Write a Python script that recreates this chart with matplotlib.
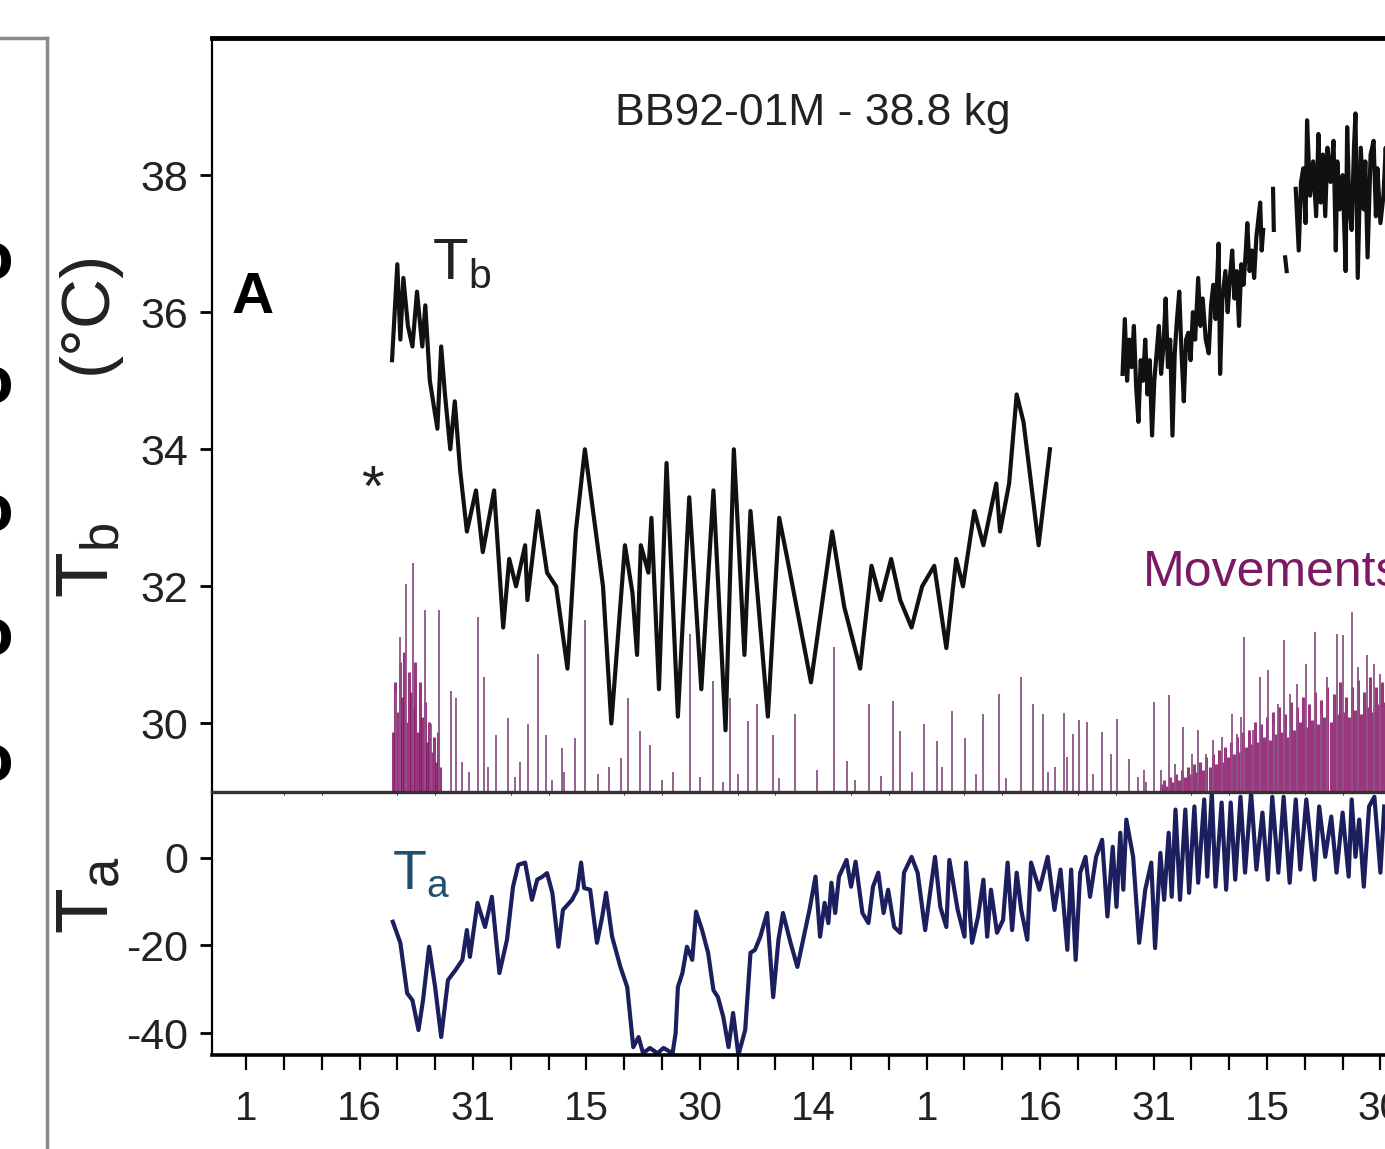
import matplotlib
matplotlib.use('Agg')
import matplotlib.pyplot as plt
import numpy as np
from matplotlib import font_manager
from matplotlib.lines import Line2D

nan = np.nan

# days counted from 1 Dec
tb1_day = [19.3, 20.0, 20.4, 20.8, 21.4, 22.0, 22.6, 23.3, 23.7, 24.3, 25.3, 25.8, 26.3, 27.0, 27.6,
           28.3, 29.2, 30.4, 31.3, 32.8, 34.0, 34.8, 35.7, 36.9, 37.2, 38.6, 39.8, 41.0, 42.5, 43.6,
           44.8, 46.0, 47.2, 48.3, 50.1, 51.1, 51.7, 52.2, 53.2, 53.6, 54.6, 55.6, 57.1, 58.6, 60.2,
           61.8, 63.4, 64.5, 65.9, 66.7, 69.0, 70.5, 71.4, 72.1, 74.7, 77.5, 79.1, 81.2, 82.7, 83.9,
           85.3, 86.5, 88.0, 89.4, 91.0, 92.6, 93.9, 94.8, 96.3, 97.5, 99.2, 99.7, 100.9, 101.9, 102.8,
           103.7, 104.8, 106.3]
tb1_val = [35.3, 36.7, 35.6, 36.5, 35.8, 35.5, 36.3, 35.5, 36.1, 35.0, 34.3, 35.5, 34.8, 34.0, 34.7,
           33.7, 32.8, 33.4, 32.5, 33.4, 31.4, 32.4, 32.0, 32.6, 31.8, 33.1, 32.2, 32.0, 30.8, 32.8,
           34.0, 33.0, 32.0, 30.0, 32.6, 31.9, 31.0, 32.6, 32.2, 33.0, 30.5, 33.8, 30.1, 33.3, 30.5,
           33.4, 29.9, 34.0, 31.0, 33.1, 30.1, 33.0, 32.5, 32.1, 30.6, 32.8, 31.7, 30.8, 32.3, 31.8,
           32.4, 31.8, 31.4, 32.0, 32.3, 31.1, 32.4, 32.0, 33.1, 32.6, 33.5, 32.8, 33.5, 34.8, 34.4,
           33.6, 32.6, 34.0]

tb2_day = [115.9, 116.2, 116.5, 116.8, 117.1, 117.4, 117.7, 118.0, 118.3, 118.6, 118.9, 119.2, 119.5,
           119.8, 120.1, 120.4, 120.7, 121.0, 121.3, 121.6, 121.9, 122.2, 122.5, 122.8, 123.1, 123.4,
           123.7, 124.0, 124.3, 124.6, 124.9, 125.2, 125.5, 125.9, 126.2, 126.5, 126.9, 127.3, 127.6,
           127.9, 128.2, 128.6, 128.8, 129.1, 129.5, 129.8, 130.1, 130.4, 130.7, 131.0, 131.3, 131.6,
           131.9, 132.2, 132.4, 132.7, 133.0, 133.3, 133.6, 133.9, 134.1, 134.3, 134.5, nan,
           135.8, 135.9, nan, 137.4, 137.6, nan,
           138.8, 139.2, 139.5, 139.8, 140.1, 140.3, 140.7, 141.1, 141.5, 141.8, 142.1, 142.4, 142.7,
           143.0, 143.4, 143.8, 144.1, 144.3, 144.6, 145.0, 145.4, 145.6, 145.9, 146.2, 146.5, 146.7,
           147.0, 147.4, 147.8, 148.0, 148.3, 148.7, 149.1, 149.4, 149.6, 150.0, 150.4, 150.7, 151.0]
tb2_val = [35.1, 35.9, 35.0, 35.6, 35.2, 35.8, 34.9, 34.4, 35.3, 35.0, 35.6, 34.8, 35.3,
           34.2, 35.0, 35.4, 35.8, 35.1, 35.5, 36.2, 35.2, 35.6, 34.2, 35.4, 35.9, 36.3,
           35.4, 34.7, 35.6, 35.7, 35.3, 36.0, 35.6, 36.5, 35.8, 36.2, 35.6, 35.4, 36.1,
           36.4, 35.9, 37.0, 35.1, 36.2, 36.6, 36.0, 36.5, 36.9, 36.2, 36.6, 35.8, 36.7,
           36.4, 36.9, 37.3, 36.6, 36.9, 36.5, 37.1, 37.4, 37.6, 36.9, 37.2, nan,
           37.8, 37.2, nan, 36.8, 36.6, nan,
           37.8, 36.9, 37.9, 38.1, 37.3, 38.8, 37.7, 38.2, 37.4, 38.6, 37.6, 38.3, 37.4,
           38.4, 37.9, 38.5, 36.9, 38.2, 37.5, 38.0, 36.6, 38.7, 37.5, 37.2, 38.4, 38.9,
           36.5, 38.4, 37.5, 38.2, 36.8, 38.3, 38.5, 37.4, 38.1, 37.3, 37.7, 38.4, 37.6]

ta_day = [19.4, 20.4, 21.3, 22.0, 22.8, 23.4, 24.2, 25.0, 25.8, 26.7, 27.7, 28.6, 29.2, 29.6, 30.6,
          31.6, 32.5, 33.5, 34.5, 35.3, 36.0, 36.9, 37.8, 38.5, 39.2, 39.8, 40.5, 41.3, 41.9, 43.1,
          43.8, 44.3, 44.7, 45.5, 46.4, 47.1, 47.6, 48.4, 49.5, 50.4, 51.2, 51.9, 52.5, 53.4, 54.4,
          55.2, 56.4, 56.8, 57.1, 57.7, 58.3, 59.0, 59.5, 60.3, 61.1, 61.8, 62.4, 63.1, 63.8, 64.4,
          65.1, 66.0, 66.7, 67.3, 68.0, 68.9, 69.7, 70.4, 71.0, 72.0, 72.9, 74.5, 75.3, 75.9, 76.5,
          77.0, 77.4, 77.9, 78.4, 79.4, 80.0, 80.6, 81.5, 82.3, 82.9, 83.6, 84.3, 84.9, 85.7, 86.5,
          87.0, 88.0, 88.8, 89.8, 90.5, 91.1, 91.8, 92.6, 93.0, 94.1, 95.0, 95.2, 96.0, 96.8, 97.5,
          98.0, 98.5, 99.3, 100.1, 100.7, 101.3, 101.9, 102.5, 103.3, 103.8, 104.9, 106.0, 106.9, 107.7,
          108.6, 109.1, 109.7, 110.3, 111.0, 111.6, 112.4, 113.2, 113.9, 114.6, 115.1, 115.6, 116.0,
          116.4, 117.3, 118.1, 118.9, 119.7, 120.2, 120.9, 121.4, 122.0, 122.4, 122.9, 123.5, 124.2,
          124.7, 125.4, 125.9, 126.7, 127.1, 127.7, 128.2, 129.0, 129.6, 130.2, 130.8, 131.5, 132.1,
          132.9, 133.6, 134.4, 135.1, 135.7, 136.5, 137.2, 138.0, 138.8, 139.4, 140.2, 141.3, 141.9,
          142.7, 143.5, 144.2, 145.0, 145.8, 146.2, 146.7, 147.2, 147.8, 148.5, 149.2, 150.0, 150.5]
ta_val = [-14.6, -19.4, -30.9, -32.5, -39.3, -32.5, -20.3, -29.5, -40.9, -27.9, -25.6, -23.3, -16.5, -22.6, -10.3,
          -15.8, -8.9, -26.3, -18.7, -6.6, -1.6, -1.1, -9.6, -5.0, -4.3, -3.5, -8.0, -20.3, -11.9, -9.6,
          -7.3, -1.1, -6.9, -7.3, -19.4, -13.4, -8.0, -18.0, -24.9, -29.5, -43.2, -40.9, -44.6, -43.4, -44.6,
          -43.4, -44.6, -40.0, -29.5, -26.3, -20.3, -23.3, -12.3, -16.5, -21.7, -30.2, -31.8, -36.3, -43.2, -35.4,
          -45.0, -39.3, -21.7, -21.0, -18.0, -12.6, -31.8, -18.7, -12.6, -19.4, -24.9, -11.9, -4.3, -18.0, -10.3,
          -14.9, -5.7, -12.6, -4.3, -0.5, -6.6, -0.9, -12.6, -14.9, -6.6, -3.4, -12.6, -7.3, -15.8, -17.1,
          -3.4, 0.2, -3.4, -16.5, -7.3, 0.2, -11.2, -15.8, -0.5, -11.9, -18.0, -1.1, -19.4, -13.4, -5.0,
          -18.0, -7.3, -17.1, -14.2, -1.1, -16.5, -3.4, -11.9, -18.7, -1.1, -7.3, 0.2, -11.9, -2.7,
          -21.0, -2.7, -23.3, -3.4, 0.2, -8.9, 0.2, 4.1, -13.4, 2.5, -11.2, 5.7, -7.3,
          8.7, 0.2, -19.4, -7.3, -1.1, -20.6, 1.1, -9.6, 5.7, -8.9, 11.0, -9.6, 11.0,
          -8.0, 11.7, -5.7, 13.3, -4.3, 14.9, -6.6, 12.6, -7.3, 12.6, -5.0, 13.9, -3.4,
          14.9, -2.7, 10.3, -5.0, 13.9, -3.4, 13.9, -5.7, 13.3, -2.7, 13.3, -5.0, 11.7,
          0.2, 9.4, -3.4, 10.3, -4.3, 13.3, 0.2, 8.7, -6.6, 11.7, 13.9, -3.4, 11.7]

# movement counts (arbitrary units)
mv_day = [19.8, 20.4, 21.2, 22.1, 23.7, 24.5, 25.5, 27.1, 27.8, 28.5, 29.5, 30.7, 31.5, 32.0, 33.1,
          34.7, 35.5, 36.2, 37.3, 38.6, 39.6, 40.5, 41.8, 42.0, 43.5, 44.8, 46.5, 48.0, 49.6, 50.5,
          52.1, 53.4, 55.0, 56.5, 58.7, 60.0, 61.8, 63.0, 64.0, 65.0, 66.4, 67.6, 69.7, 70.5, 72.6,
          75.5, 77.7, 79.5, 80.5, 82.4, 84.0, 85.6, 86.5, 88.0, 89.7, 91.3, 92.0, 93.4, 95.1, 96.5,
          97.5, 99.5, 100.5, 102.5, 104.1, 105.4, 106.0, 107.0, 108.1, 108.6, 109.4, 110.2, 111.2, 112.0,
          113.2, 114.4, 115.2, 116.7, 117.9, 118.8, 119.0, 120.1, 121.0, 122.0, 122.9, 123.9, 125.1, 125.9,
          127.0, 127.9, 129.1, 130.4, 131.1, 131.6, 132.0, 133.1, 134.1, 135.1, 135.9, 136.4, 137.2, 138.0,
          139.0, 140.2, 141.4, 142.2, 142.9, 144.2, 145.1, 146.2, 147.1, 148.2, 149.2, 150.0]
mv_cnt = [98, 155, 208, 229, 182, 68, 182, 101, 94, 30, 20, 175, 115, 25, 57,
          74, 15, 30, 68, 138, 57, 12, 44, 20, 54, 172, 18, 25, 34, 94,
          61, 47, 12, 20, 158, 15, 111, 10, 94, 18, 71, 88, 57, 14, 78,
          22, 145, 31, 12, 88, 16, 91, 61, 20, 68, 51, 25, 81, 54, 18,
          78, 98, 14, 115, 88, 78, 20, 25, 79, 35, 58, 72, 70, 18,
          60, 38, 73, 33, 15, 22, 10, 90, 22, 97, 28, 65, 38, 62,
          38, 52, 55, 78, 58, 75, 155, 62, 115, 122, 68, 88, 152, 98,
          108, 128, 160, 78, 115, 158, 157, 180, 125, 137, 128, 118]

# dense low-level activity at onset and in spring
mv_dense_day = [19.4, 19.7, 20.0, 20.3, 20.6, 20.9, 21.2, 21.5, 21.8, 22.1, 22.4, 22.7, 23.0, 23.3,
                23.6, 23.9, 24.2, 24.5, 24.8, 25.1, 25.4, 25.7,
                121.0, 121.4, 121.8, 122.2, 122.6, 123.0, 123.4, 123.8, 124.2, 124.6, 125.0, 125.4,
                125.8, 126.2, 126.6, 127.0, 127.4, 127.8, 128.2, 128.6, 129.0, 129.4, 129.8, 130.2,
                130.6, 131.0, 131.4, 131.8, 132.2, 132.6, 133.0, 133.4, 133.8, 134.2, 134.6, 135.0,
                135.4, 135.8, 136.2, 136.6, 137.0, 137.4, 137.8, 138.2, 138.6, 139.0, 139.4, 139.8,
                140.2, 140.6, 141.0, 141.4, 141.8, 142.2, 142.6, 143.0, 143.4, 143.8, 144.2, 144.6,
                145.0, 145.4, 145.8, 146.2, 146.6, 147.0, 147.4, 147.8, 148.2, 148.6, 149.0, 149.4,
                149.8, 150.2, 150.6]
mv_dense_cnt = [60, 110, 80, 130, 95, 140, 70, 120, 100, 85, 130, 60, 110, 75,
                90, 50, 70, 40, 55, 30, 60, 25,
                8, 12, 6, 15, 10, 18, 12, 22, 15, 25, 18, 28,
                20, 30, 22, 35, 25, 38, 28, 42, 30, 45, 35, 50,
                38, 55, 40, 60, 45, 62, 48, 70, 50, 68, 55, 75,
                52, 80, 58, 85, 60, 78, 55, 90, 62, 85, 70, 95,
                65, 88, 72, 100, 68, 92, 75, 105, 70, 98, 78, 110,
                80, 95, 75, 105, 82, 112, 78, 100, 85, 115, 80, 105,
                88, 110, 90]

tick_days = [0, 15, 30, 45, 60, 75, 90, 105, 120, 135, 150]
tick_text = ['1', '16', '31', '15', '30', '14', '1', '16', '31', '15', '30']

names = {f.name for f in font_manager.fontManager.ttflist}
if 'Liberation Sans Narrow' in names:
    FONT, K = 'Liberation Sans Narrow', 1.18
else:
    FONT, K = 'Liberation Sans', 1.0

plt.rcParams['font.family'] = [FONT, 'DejaVu Sans']
plt.rcParams['axes.unicode_minus'] = False
plt.rcParams['mathtext.fontset'] = 'custom'
plt.rcParams['mathtext.rm'] = FONT
plt.rcParams['mathtext.it'] = FONT

TB_C = '#111111'
TA_C = '#1b1f5e'
MV_C = '#8d5585'
MV_D = '#8a1468'

fig = plt.figure(figsize=(13.85, 11.49), dpi=100)
ax_tb = fig.add_axes([0.1531, 0.3107, 0.8982, 0.6562])
ax_ta = fig.add_axes([0.1531, 0.0818, 0.8982, 0.2289], sharex=ax_tb)
ax_mv = ax_tb.twinx()

# movements
ax_mv.vlines(mv_dense_day, 0, mv_dense_cnt, color=MV_D, lw=2.2, alpha=0.85)
ax_mv.vlines(mv_day, 0, mv_cnt, color=MV_C, lw=1.3)
ax_mv.set_ylim(0, 754)
ax_mv.axis('off')

ax_tb.set_zorder(ax_mv.get_zorder() + 1)
ax_tb.patch.set_visible(False)

ax_tb.plot(tb1_day, tb1_val, color=TB_C, lw=3.0)
ax_tb.plot(tb2_day, tb2_val, color=TB_C, lw=3.0)
ax_ta.plot(ta_day, ta_val, color=TA_C, lw=3.0)

ax_tb.set_xlim(-4.5, 160)
ax_tb.set_ylim(29, 40)
ax_ta.set_ylim(-45, 15)

ax_tb.set_yticks([30, 32, 34, 36, 38])
ax_ta.set_yticks([-40, -20, 0])
ax_ta.set_xticks(tick_days)
ax_ta.set_xticklabels(tick_text)
ax_ta.set_xticks(np.arange(0, 161, 5), minor=True)

for ax in (ax_tb, ax_ta):
    ax.spines['right'].set_visible(False)
    ax.spines['left'].set_linewidth(1.6)
    ax.tick_params(axis='y', direction='out', length=9, width=2, pad=8,
                   labelsize=31 * K, labelcolor='#222222')
ax_tb.spines['top'].set_linewidth(3.5)
ax_tb.spines['bottom'].set_linewidth(2.4)
ax_tb.spines['bottom'].set_color('#333333')
ax_tb.tick_params(axis='x', bottom=False, labelbottom=False)
ax_ta.spines['top'].set_visible(False)
ax_ta.spines['bottom'].set_linewidth(2.6)
ax_ta.tick_params(axis='x', which='both', direction='out', length=11, width=1.6,
                  pad=14, labelsize=29 * K, labelcolor='#222222')

# annotations
ax_tb.text(75, 38.9, 'BB92-01M - 38.8 kg', fontsize=32 * K, ha='center', va='center', color='#222222')
ax_tb.text(0.9, 36.2, 'A', fontsize=42 * K, fontweight='bold', ha='center', va='center')
ax_tb.text(24.6, 36.7, r'T$_{\mathrm{b}}$', fontsize=42 * K, ha='left', va='center', color='#222222')
ax_tb.text(16.7, 33.4, '*', fontsize=42, ha='center', va='center', color='#222222')
ax_tb.text(118.6, 32.2, 'Movements', fontsize=36 * K, ha='left', va='center', color='#7b1a63')
ax_ta.text(19.3, -4.0, r'T$_{\mathrm{a}}$', fontsize=40 * K, ha='left', va='center', color='#21506e')

fig.text(0.0635, 0.7285, '(°C)', rotation=90, fontsize=50 * K, ha='center', va='center', color='#222222')
fig.text(0.0635, 0.5126, r'T$_{\mathrm{b}}$', rotation=90, fontsize=54 * K, ha='center', va='center', color='#222222')
fig.text(0.0635, 0.221, r'T$_{\mathrm{a}}$', rotation=90, fontsize=54 * K, ha='center', va='center', color='#222222')

# neighbouring panel frame (cropped)
fig.add_artist(Line2D([47 / 1385, 47 / 1385], [1 - 38 / 1149, 0], transform=fig.transFigure,
                      color='#8a8a8a', lw=2.5))
fig.add_artist(Line2D([0, 47 / 1385], [1 - 38 / 1149, 1 - 38 / 1149], transform=fig.transFigure,
                      color='#8a8a8a', lw=2.5))
for yp in [265, 390, 517, 642, 767]:
    fig.text(-8 / 1385, 1 - yp / 1149, 'O', fontsize=36, fontweight='bold',
             family='DejaVu Sans', ha='center', va='center')

fig.savefig('out.png', dpi=100)
